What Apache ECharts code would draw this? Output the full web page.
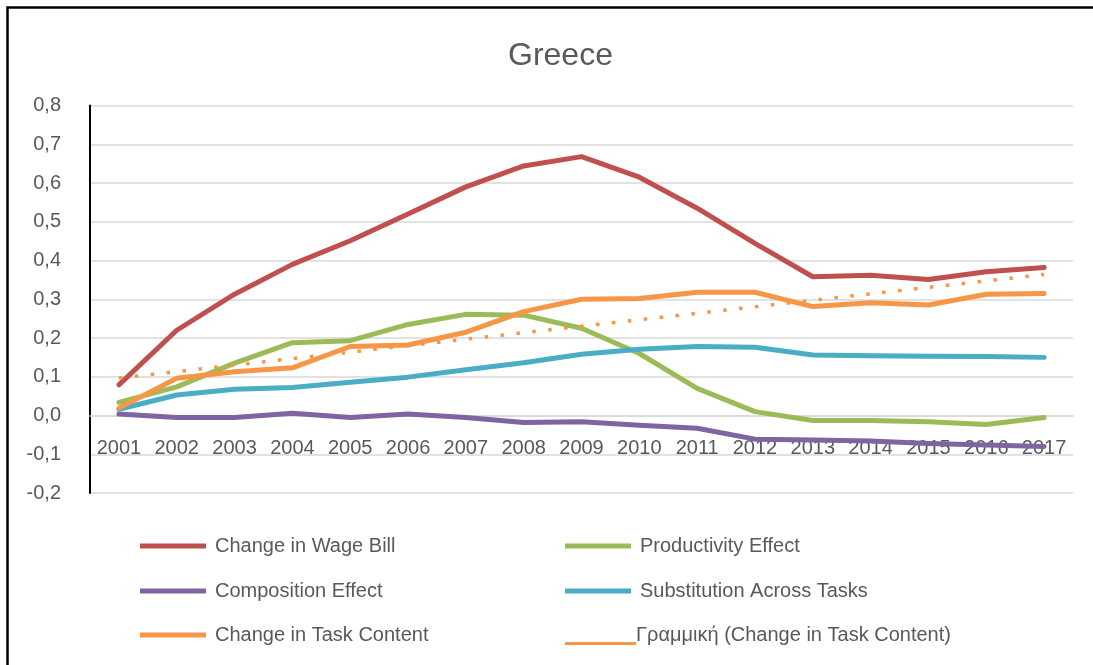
<!DOCTYPE html>
<html>
<head>
<meta charset="utf-8">
<script src="https://cdn.jsdelivr.net/npm/echarts@6/dist/echarts.min.js"></script>
<style>
  html, body { margin: 0; padding: 0; background: #fff; }
  #chart { width: 1093px; height: 665px; }
</style>
</head>
<body>
<div id="chart"></div>
<script>
// Years on the category axis
const years = ['2001','2002','2003','2004','2005','2006','2007','2008','2009',
               '2010','2011','2012','2013','2014','2015','2016','2017'];

// Decomposition series for Greece
const wageBill     = [0.079, 0.220, 0.313, 0.390, 0.451, 0.520, 0.590, 0.644, 0.668,
                      0.615, 0.535, 0.444, 0.358, 0.362, 0.351, 0.371, 0.382];
const productivity = [0.034, 0.074, 0.135, 0.188, 0.193, 0.235, 0.261, 0.259, 0.225,
                      0.160, 0.070, 0.010, -0.013, -0.013, -0.016, -0.023, -0.005];
const composition  = [0.004, -0.005, -0.005, 0.006, -0.005, 0.004, -0.005, -0.018, -0.016,
                      -0.025, -0.033, -0.061, -0.063, -0.066, -0.072, -0.076, -0.080];
const substitution = [0.016, 0.053, 0.068, 0.072, 0.086, 0.099, 0.118, 0.136, 0.158,
                      0.171, 0.178, 0.176, 0.156, 0.154, 0.153, 0.152, 0.150];
const taskContent  = [0.019, 0.096, 0.113, 0.123, 0.178, 0.182, 0.215, 0.268, 0.300,
                      0.302, 0.318, 0.318, 0.281, 0.291, 0.285, 0.313, 0.315];

// Series names (legend text)
const names = ['Change in Wage Bill', 'Productivity Effect', 'Composition Effect',
               'Substitution Across Tasks', 'Change in Task Content',
               'Γραμμική (Change in Task Content)'];

// Linear least-squares trend of the task-content series
function linearTrend(ys) {
  const n = ys.length;
  let sx = 0, sy = 0, sxx = 0, sxy = 0;
  ys.forEach((y, i) => { const x = i + 1; sx += x; sy += y; sxx += x * x; sxy += x * y; });
  const b = (n * sxy - sx * sy) / (n * sxx - sx * sx);
  const a = (sy - b * sx) / n;
  return ys.map((_, i) => +(a + b * (i + 1)).toFixed(4));
}
const taskTrend = linearTrend(taskContent);

const colors = {
  red: '#C0504D', green: '#9BBB59', purple: '#8064A2', blue: '#4BACC6', orange: '#F79646'
};
const FONT = '"Liberation Sans", Arial, sans-serif';
const GREY = '#595959';

function lineSeries(name, data, color) {
  return {
    name, type: 'line', data, symbol: 'none', smooth: false,
    itemStyle: { color },
    lineStyle: { color, width: 5, cap: 'round', join: 'round' },
    emphasis: { disabled: true }
  };
}

// One legend block per entry, laid out in two columns
function legendAt(name, left, top, icon, w, h, textPad) {
  return {
    data: [name], left, top, icon, itemWidth: w, itemHeight: h,
    padding: 0, selectedMode: false,
    textStyle: { fontFamily: FONT, fontSize: 20, color: GREY, padding: [0, 0, 0, textPad] }
  };
}
const rectIcon = 'rect';
// thin line sitting at the bottom of its box (tiny speck keeps the box height)
const trendIcon = 'path://M0,0L0.05,0L0.05,0.05Z M0,17L71,17L71,20L0,20Z';

// value axis spans -0.2..0.8 over the grid height; the category labels sit on the zero line
const gridTop = 105.5, gridBottom = 172, chartH = 665;
const plotH = chartH - gridTop - gridBottom;
const zeroShift = plotH * (0.2 / 1.0);

const chart = echarts.init(document.getElementById('chart'), null, { renderer: 'canvas' });
chart.setOption({
  backgroundColor: '#ffffff',
  animation: false,
  title: {
    text: 'Greece', left: 503, top: 35,
    textStyle: { fontFamily: FONT, fontSize: 32, fontWeight: 'normal', color: GREY }
  },
  grid: { left: 90, right: 20, top: gridTop, bottom: gridBottom, containLabel: false },
  xAxis: {
    type: 'category', data: years, boundaryGap: true,
    offset: -zeroShift,
    axisLine: { show: true, onZero: false, lineStyle: { color: '#D9D9D9', width: 1.5 } },
    axisTick: { show: false },
    axisLabel: { margin: 23, fontFamily: FONT, fontSize: 20, color: GREY, interval: 0 },
    splitLine: { show: false }
  },
  yAxis: {
    type: 'value', min: -0.2, max: 0.8, interval: 0.1,
    axisLine: { show: true, lineStyle: { color: '#000', width: 2 } },
    axisTick: { show: false },
    axisLabel: {
      margin: 29, fontFamily: FONT, fontSize: 20, color: GREY,
      formatter: v => v.toFixed(1).replace('.', ',')
    },
    splitLine: { show: true, lineStyle: { color: '#D9D9D9', width: 1.5 } }
  },
  legend: [
    legendAt(names[0], 140, 536, rectIcon, 66, 5, 4),
    legendAt(names[1], 565, 536, rectIcon, 66, 5, 4),
    legendAt(names[2], 140, 581, rectIcon, 66, 5, 4),
    legendAt(names[3], 565, 581, rectIcon, 66, 5, 4),
    legendAt(names[4], 140, 625, rectIcon, 66, 5, 4),
    legendAt(names[5], 565, 625, trendIcon, 71, 20, -5)
  ],
  series: [
    lineSeries(names[0], wageBill, colors.red),
    lineSeries(names[1], productivity, colors.green),
    lineSeries(names[2], composition, colors.purple),
    lineSeries(names[3], substitution, colors.blue),
    lineSeries(names[4], taskContent, colors.orange),
    {
      name: names[5], type: 'line', data: taskTrend, symbol: 'none',
      itemStyle: { color: colors.orange },
      lineStyle: { color: colors.orange, width: 3.5, type: [3.5, 12.5], cap: 'butt' },
      emphasis: { disabled: true }
    }
  ],
  graphic: [{
    type: 'rect', silent: true, z: 100,
    shape: { x: 7.5, y: 7.5, width: 1110, height: 700 },
    style: { fill: 'none', stroke: '#000', lineWidth: 2.5 }
  }]
});
</script>
</body>
</html>
